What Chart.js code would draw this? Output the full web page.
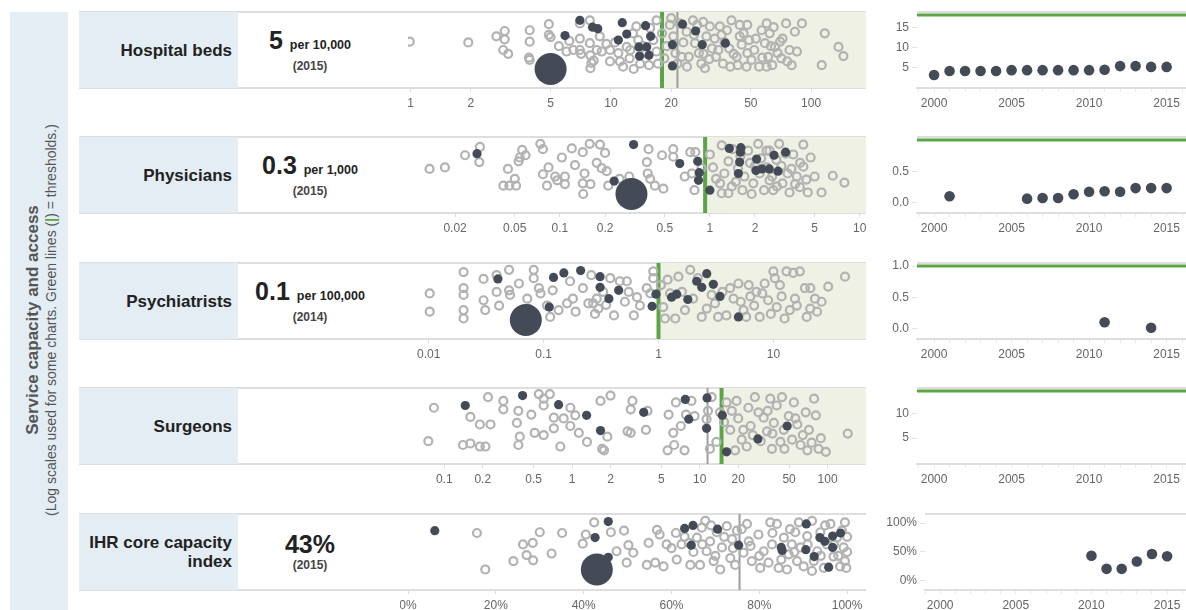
<!DOCTYPE html>
<html>
<head>
<meta charset="utf-8">
<title>Service capacity and access</title>
<script src="https://cdn.jsdelivr.net/npm/chart.js@4.4.1/dist/chart.umd.min.js"></script>
<style>
  body { margin: 0; background: #fff; font-family: Arial, "Liberation Sans", sans-serif; }
  #page { position: relative; width: 1186px; height: 610px; overflow: hidden; }
  .band { position: absolute; left: 10px; top: 12px; width: 58px; height: 598px; background: #e4edf3; }
  .vt { position: absolute; width: 600px; text-align: center; transform: rotate(-90deg); color: #555; white-space: nowrap; }
  .label { position: absolute; left: 79px; width: 159px; height: 76px; background: #e4edf3; display: flex; align-items: center; justify-content: flex-end; text-align: right; font-weight: bold; font-size: 17px; color: #222; padding-right: 6px; box-sizing: border-box; line-height: 19px; }
  .value { position: absolute; left: 238px; width: 144px; height: 76px; display: flex; flex-direction: column; justify-content: center; align-items: center; color: #222; }
  .big { font-size: 25px; font-weight: bold; line-height: 26px; }
  .unit { font-size: 12.5px; font-weight: bold; }
  .yr { font-size: 12px; font-weight: bold; color: #444; line-height: 16px; }
  .hline { position: absolute; height: 2px; background: #dedede; }
  canvas { position: absolute; }
</style>
</head>
<body>
<div id="page">
  <div class="band"></div>
  <div class="vt" style="left:-267px; top:310px; font-size:17px; font-weight:bold; line-height:20px;">Service capacity and access</div>
  <div class="vt" style="left:-249px; top:312px; font-size:14px; line-height:16px;">(Log scales used for some charts. Green lines (<span style="color:#5ba547;font-weight:bold">|</span>) = thresholds.)</div>
</div>

<script>
// ==========================================
// DATA
// ==========================================

const rowNames = ['Hospital beds', 'Physicians', 'Psychiatrists', 'Surgeons', 'IHR core capacity<br>index'];
const headline = ['5', '0.3', '0.1', '', '43%'];
const headUnit = ['per 10,000', 'per 1,000', 'per 100,000', '', ''];
const headYear = ['(2015)', '(2015)', '(2014)', '', '(2015)'];

// country value (big dot) and its jitter position
const countryValue = [5, 0.3, 0.07, null, 43];
const countryJitter = [0.25, 0.25, 0.25, null, 0.27];

// strip plot axes
const stripMin = [0.97, 0.0097, 0.0066, 0.052, 0];
const stripMax = [188, 11, 64, 200, 104.3];
const stripTicks = [
    [1, 2, 5, 10, 20, 50, 100],
    [0.02, 0.05, 0.1, 0.2, 0.5, 1, 2, 5, 10],
    [0.01, 0.1, 1, 10],
    [0.1, 0.2, 0.5, 1, 2, 5, 10, 20, 50, 100],
    [0, 20, 40, 60, 80, 100]
];
const stripThreshold = [18, 0.93, 1, 14.8, null];
const stripMedian = [21.5, null, null, 11.5, 75.5];

// other countries: [value, jitter 0..1]
const bedsOpen = [[0.99,.61],[1.94,.6],[2.68,.68],[2.95,.75],[2.95,.64],[2.9,.5],[3.07,.45],[3.93,.76],[3.93,.61],[3.93,.37],[3.9,.4],[4.9,.84],[4.9,.7],[5.0,.67],[6.0,.48],[6.5,.5],[7.0,.85],[7.0,.65],[7.0,.5],[7.1,.45],[7.85,.89],[7.85,.59],[7.9,.43],[8.0,.33],[7.9,.26],[8.2,.36],[8.8,.68],[9.0,.48],[9.9,.5],[9.9,.35],[10.9,.46],[11.1,.35],[12.0,.54],[12.4,.39],[12.9,.72],[13.4,.81],[13.7,.63],[14.0,.32],[15.0,.46],[15.7,.79],[16.3,.63],[16.9,.89],[16.9,.48],[17.2,.32],[18.5,.39],[19.7,.83],[20,.92],[20.5,.68],[21,.46],[21.5,.32],[22.6,.41],[23.9,.74],[24.5,.41],[25.7,.89],[26.3,.59],[27,.83],[27.5,.46],[28.3,.32],[28.9,.87],[29.5,.26],[30,.68],[31.2,.81],[32,.52],[33.5,.41],[34.4,.5],[35,.81],[35.7,.7],[36.3,.32],[39,.52],[40,.89],[39.5,.28],[42.5,.41],[44,.83],[44,.68],[45,.57],[47.6,.28],[48,.46],[48,.83],[49,.63],[50.4,.37],[55,.28],[56.6,.76],[58.8,.59],[60,.85],[61,.41],[62.1,.72],[64,.3],[66,.54],[68,.46],[70,.61],[71,.39],[75,.85],[76,.35],[83,.74],[85,.48],[90,.85],[113,.3],[117,.72],[137,.54],[145,.42],[14.5,.55],[18,.72],[19,.55],[22,.85],[23,.6],[24,.28],[26,.7],[29,.45],[31,.38],[33,.65],[37,.6],[38,.76],[41,.45],[43,.3],[46,.72],[52,.5],[53,.65],[57,.4],[60,.28],[63,.55],[65,.8],[72,.65],[78,.5],[80,.3],[5.5,.55],[6.2,.62],[8.5,.5],[9.5,.58],[10.5,.6],[11.5,.28],[12.5,.5],[13,.25],[15.5,.3]];
const bedsFill = [[5.9,.69],[7.0,.89],[8.1,.8],[8.6,.78],[10.9,.63],[11.4,.86],[12,.71],[13.8,.54],[13.9,.42],[14.9,.82],[15.1,.54],[15.5,.43],[15.8,.68],[20.3,.57],[20.3,.29],[22.8,.84],[26.5,.75],[28.6,.57],[37.3,.59]];

const physOpen = [[0.0135,.58],[0.0171,.6],[0.0233,.76],[0.0293,.87],[0.029,.67],[0.042,.36],[0.045,.58],[0.046,.36],[0.05,.45],[0.051,.36],[0.053,.68],[0.056,.83],[0.059,.76],[0.054,.73],[0.074,.91],[0.077,.84],[0.077,.51],[0.084,.6],[0.082,.36],[0.093,.48],[0.096,.43],[0.103,.73],[0.108,.48],[0.108,.38],[0.12,.85],[0.126,.63],[0.142,.8],[0.142,.39],[0.143,.25],[0.146,.52],[0.158,.91],[0.16,.38],[0.176,.66],[0.185,.9],[0.19,.59],[0.2,.79],[0.205,.55],[0.21,.36],[0.25,.45],[0.29,.48],[0.31,.39],[0.38,.67],[0.39,.84],[0.385,.52],[0.4,.45],[0.43,.36],[0.49,.32],[0.48,.76],[0.57,.84],[0.57,.74],[0.68,.48],[0.74,.8],[0.76,.52],[0.79,.3],[0.8,.8],[0.88,.59],[1.0,.77],[1.05,.6],[1.17,.39],[1.2,.89],[1.2,.26],[1.33,.26],[1.33,.68],[1.42,.84],[1.49,.41],[1.54,.59],[1.65,.3],[1.8,.82],[1.85,.66],[1.95,.39],[2.1,.91],[2.15,.52],[2.3,.3],[2.39,.82],[2.5,.43],[2.65,.3],[2.78,.7],[2.9,.91],[3.05,.39],[3.3,.52],[3.4,.27],[3.6,.77],[3.8,.48],[3.98,.34],[4.2,.9],[4.2,.61],[4.5,.27],[4.7,.73],[5.0,.48],[5.56,.27],[6.6,.49],[7.9,.4],[1.1,.45],[1.25,.52],[1.4,.35],[1.6,.75],[1.7,.48],[2.0,.62],[2.2,.72],[2.4,.6],[2.6,.48],[2.8,.35],[3.0,.62],[3.2,.78],[3.5,.58],[3.7,.38],[4.0,.66],[4.4,.44],[1.9,.25],[2.5,.82]];
const physFill = [[0.028,.78],[0.31,.9],[0.23,.42],[0.63,.65],[0.83,.68],[0.85,.53],[0.84,.43],[1.0,.3],[1.35,.85],[1.61,.86],[1.6,.8],[1.58,.67],[1.55,.52],[2.05,.71],[2.03,.56],[2.23,.58],[2.49,.58],[2.68,.76],[2.85,.55],[3.2,.8]];

const psychOpen = [[0.0102,.6],[0.0102,.36],[0.0201,.88],[0.0201,.67],[0.0201,.58],[0.0201,.38],[0.0201,.27],[0.03,.79],[0.03,.51],[0.031,.38],[0.039,.84],[0.039,.62],[0.041,.44],[0.05,.91],[0.05,.64],[0.051,.58],[0.061,.73],[0.072,.53],[0.074,.4],[0.082,.91],[0.082,.8],[0.091,.67],[0.094,.6],[0.107,.44],[0.114,.29],[0.135,.38],[0.16,.47],[0.17,.76],[0.18,.53],[0.22,.67],[0.26,.84],[0.27,.47],[0.28,.33],[0.29,.53],[0.33,.62],[0.38,.8],[0.41,.31],[0.46,.76],[0.51,.49],[0.53,.76],[0.61,.31],[0.69,.44],[0.79,.67],[0.85,.6],[0.9,.89],[0.9,.8],[1.1,.42],[1.14,.27],[1.26,.6],[1.4,.27],[1.49,.82],[1.7,.38],[1.89,.91],[2.0,.53],[2.38,.29],[2.63,.4],[2.9,.58],[3.3,.29],[3.9,.31],[4.2,.67],[4.5,.53],[4.96,.73],[5.5,.38],[6.1,.71],[6.3,.56],[7.1,.62],[7.6,.29],[8.4,.73],[9.0,.51],[10,.89],[10.3,.8],[10.7,.42],[11.4,.71],[13,.89],[13.9,.38],[14.9,.87],[15.4,.53],[17,.89],[18.8,.67],[19.5,.29],[20.9,.4],[23,.53],[26.3,.49],[30,.69],[42,.82],[0.3,.4],[0.35,.45],[0.55,.62],[0.65,.55],[1.05,.71],[1.2,.78],[1.6,.62],[2.2,.8],[3.1,.47],[3.6,.62],[5.2,.49],[5.8,.29],[6.8,.44],[8.0,.6],[9.5,.33],[11.8,.56],[12.5,.27],[16,.44],[21,.67],[24,.36],[0.19,.36],[0.245,.47],[0.12,.64]];
const psychFill = [[0.04,.79],[0.122,.81],[0.15,.87],[0.21,.9],[0.31,.82],[0.31,.68],[0.45,.64],[0.37,.53],[0.112,.42],[0.88,.43],[0.95,.59],[1.3,.55],[1.44,.59],[1.8,.52],[2.15,.76],[2.38,.68],[2.63,.86],[3.0,.72],[3.43,.56],[4.96,.29]];

const surgOpen = [[0.075,.3],[0.083,.74],[0.14,.25],[0.16,.27],[0.16,.62],[0.19,.52],[0.19,.23],[0.21,.23],[0.22,.88],[0.23,.52],[0.29,.83],[0.29,.72],[0.38,.25],[0.38,.7],[0.37,.54],[0.39,.36],[0.48,.65],[0.51,.41],[0.55,.92],[0.6,.86],[0.6,.77],[0.6,.38],[0.67,.92],[0.72,.61],[0.72,.47],[0.81,.23],[0.86,.6],[0.97,.74],[0.97,.5],[1.06,.64],[1.13,.41],[1.31,.29],[1.67,.83],[1.72,.2],[1.78,.18],[1.89,.36],[2.0,.9],[2.72,.43],[2.88,.41],[2.88,.72],[2.97,.83],[3.79,.45],[3.9,.7],[5.6,.18],[5.7,.65],[6.2,.41],[6.3,.25],[6.5,.81],[7.1,.5],[7.6,.18],[7.8,.65],[8.6,.83],[9.1,.63],[11.3,.59],[11.6,.7],[12,.2],[12.4,.88],[13.5,.29],[14.4,.68],[16.2,.81],[17.3,.45],[17.8,.7],[18.9,.18],[19.4,.83],[21.3,.32],[21.9,.45],[23.3,.23],[24,.74],[27,.88],[28.8,.68],[31.6,.61],[33.6,.43],[35.6,.86],[36.7,.2],[38,.54],[40,.77],[42.8,.29],[44,.88],[45.4,.45],[49.7,.63],[52.8,.32],[54.5,.81],[58,.52],[61.5,.25],[67.5,.68],[69.5,.18],[71.5,.45],[78.5,.86],[81,.64],[88.6,.34],[97,.16],[144,.4],[25,.5],[30,.3],[34,.7],[37,.4],[46,.2],[56,.6],[64,.38],[75,.28],[85,.2],[20,.6],[15.5,.55],[26,.38]];
const surgFill = [[0.146,.77],[0.41,.9],[0.785,.78],[1.3,.64],[1.67,.44],[3.64,.68],[7.7,.85],[8.2,.59],[11.4,.87],[11.3,.47],[15,.64],[16.2,.16],[28.5,.33],[48.3,.5]];

const ihrOpen = [[15.7,.75],[17.6,.27],[24,.38],[26.2,.6],[27,.46],[28.4,.62],[28.5,.39],[30,.76],[32.7,.48],[35.1,.75],[39.8,.61],[40.5,.73],[42.4,.89],[46.2,.76],[47.5,.51],[49.2,.78],[50.2,.59],[49.8,.36],[51.3,.49],[54.4,.33],[54.8,.62],[56.3,.36],[56.7,.79],[57.3,.73],[58.2,.31],[58.9,.6],[61.2,.4],[62.3,.6],[64.3,.33],[65.8,.69],[66.5,.33],[66.9,.82],[67.7,.91],[68,.51],[68.8,.64],[69.6,.38],[70.3,.76],[71.1,.27],[71.5,.56],[72.6,.84],[73.4,.42],[73.8,.67],[74.5,.33],[74.9,.78],[76.4,.49],[77.2,.87],[77.6,.64],[78.3,.38],[79.8,.73],[80.2,.29],[81,.51],[82.1,.36],[82.5,.89],[82.9,.6],[84,.87],[84.4,.29],[85.6,.69],[86.3,.27],[86.7,.47],[87.4,.6],[88.2,.76],[88.6,.38],[89,.89],[89.4,.56],[90.1,.31],[90.9,.71],[92,.91],[92.4,.38],[93.2,.51],[93.9,.76],[94.7,.29],[95.4,.6],[96.2,.87],[96.9,.44],[97.7,.69],[98.4,.31],[98.8,.78],[99.2,.56],[99.5,.89],[99.5,.38],[99.8,.29],[63,.7],[65,.5],[67,.6],[69,.85],[70,.45],[72,.7],[74,.55],[76,.8],[78,.58],[80,.45],[83,.75],[85,.4],[87,.8],[88,.5],[91,.6],[92,.25],[94,.45],[95,.85],[97,.6],[98,.45],[100,.7],[100,.5],[60,.55],[61,.75],[64,.62]];
const ihrFill = [[6.1,.78],[42.6,.69],[45.6,.9],[45.6,.43],[63,.81],[64.9,.85],[64.5,.59],[70.5,.8],[75.3,.59],[85,.56],[85.2,.52],[90.7,.87],[90.6,.53],[92.5,.44],[93.8,.69],[94.9,.64],[96.7,.71],[98.5,.75],[96.7,.56],[95.8,.3]];

// trends over time
const bedsYears = [2000, 2001, 2002, 2003, 2004, 2005, 2006, 2007, 2008, 2009, 2010, 2011, 2012, 2013, 2014, 2015];
const bedsTrend = [3.2, 4.2, 4.2, 4.2, 4.2, 4.4, 4.4, 4.4, 4.4, 4.4, 4.4, 4.5, 5.4, 5.4, 5.2, 5.2];
const physYears = [2001, 2006, 2007, 2008, 2009, 2010, 2011, 2012, 2013, 2014, 2015];
const physTrend = [0.1, 0.06, 0.07, 0.07, 0.13, 0.17, 0.18, 0.17, 0.23, 0.23, 0.23];
const psychYears = [2011, 2014];
const psychTrend = [0.1, 0.01];
const surgYears = [];
const surgTrend = [];
const ihrYears = [2010, 2011, 2012, 2013, 2014, 2015];
const ihrTrend = [43, 20, 20, 33, 46, 42];

const trendMin = [0, -0.17, -0.17, -0.4, -17];
const trendMax = [18.75, 1.05, 1.05, 15.4, 116];
const trendTicks = [[5, 10, 15], [0, 0.5], [0, 0.5, 1], [5, 10], [0, 50, 100]];
const trendThreshold = [18, 1, 1, 14.8, null];
const yearTicks = [1999, 2000, 2001, 2002, 2003, 2004, 2005, 2006, 2007, 2008, 2009, 2010, 2011, 2012, 2013, 2014, 2015, 2016];

// ==========================================
// LAYOUT
// ==========================================

const DARK = '#444b57';
const GREEN = '#5ba547';
const rowTops = [12, 137, 263, 388, 514];
const opens = [bedsOpen, physOpen, psychOpen, surgOpen, ihrOpen];
const fills = [bedsFill, physFill, psychFill, surgFill, ihrFill];
const trendYears = [bedsYears, physYears, psychYears, surgYears, ihrYears];
const trendVals = [bedsTrend, physTrend, psychTrend, surgTrend, ihrTrend];

Chart.defaults.font.family = 'Arial, "Liberation Sans", sans-serif';
Chart.defaults.font.size = 12;
Chart.defaults.color = '#666';

const page = document.getElementById('page');

function addDiv(cls, style, html) {
    const d = document.createElement('div');
    d.className = cls;
    d.setAttribute('style', style);
    if (html) d.innerHTML = html;
    page.appendChild(d);
    return d;
}

function addCanvas(left, top, w, h) {
    const cv = document.createElement('canvas');
    cv.width = w; cv.height = h;
    cv.style.left = left + 'px';
    cv.style.top = top + 'px';
    page.appendChild(cv);
    return cv;
}

const toPts = arr => arr.map(p => ({ x: p[0], y: p[1] }));

// shading, median and threshold lines of the strip plots
const stripDecor = {
    id: 'stripDecor',
    beforeDatasetsDraw(chart, args, opts) {
        const { ctx, chartArea: a, scales: { x } } = chart;
        ctx.save();
        if (opts.threshold != null) {
            const gx = x.getPixelForValue(opts.threshold);
            ctx.fillStyle = '#eef1e3';
            ctx.fillRect(gx, a.top, a.right - gx, a.bottom - a.top);
        }
        if (opts.median != null) {
            const mx = x.getPixelForValue(opts.median);
            ctx.strokeStyle = '#9d9d9d';
            ctx.lineWidth = 2;
            ctx.beginPath(); ctx.moveTo(mx, a.top); ctx.lineTo(mx, a.bottom); ctx.stroke();
        }
        if (opts.threshold != null) {
            const gx = x.getPixelForValue(opts.threshold);
            ctx.strokeStyle = GREEN;
            ctx.lineWidth = 4;
            ctx.beginPath(); ctx.moveTo(gx, a.top); ctx.lineTo(gx, a.bottom); ctx.stroke();
        }
        ctx.restore();
    }
};

// top border and threshold of the trend charts
const trendDecor = {
    id: 'trendDecor',
    beforeDatasetsDraw(chart, args, opts) {
        const { ctx, chartArea: a, scales: { y } } = chart;
        ctx.save();
        ctx.fillStyle = '#dedede';
        ctx.fillRect(a.left, a.top - 1, a.right - a.left, 2);
        if (opts.threshold != null) {
            const gy = y.getPixelForValue(opts.threshold);
            ctx.strokeStyle = GREEN;
            ctx.lineWidth = 3;
            ctx.beginPath(); ctx.moveTo(a.left, gy); ctx.lineTo(a.right, gy); ctx.stroke();
        }
        ctx.restore();
    }
};

function stripChart(i) {
    const cv = addCanvas(400, rowTops[i] - 4, 466, 106);
    const datasets = [];
    if (countryValue[i] != null) {
        datasets.push({ data: [{ x: countryValue[i], y: countryJitter[i] }], pointRadius: 16, backgroundColor: DARK, borderWidth: 0 });
    }
    datasets.push({ data: toPts(fills[i]), pointRadius: 4.6, backgroundColor: DARK, borderWidth: 0 });
    datasets.push({ data: toPts(opens[i]), pointRadius: 4, borderWidth: 2.2, borderColor: '#b2b2b2', backgroundColor: 'rgba(255,255,255,0)' });

    new Chart(cv, {
        type: 'scatter',
        data: { datasets },
        options: {
            responsive: false,
            animation: false,
            layout: { autoPadding: false, padding: { left: 8, top: 4, right: 0, bottom: 0 } },
            plugins: {
                legend: { display: false },
                tooltip: { enabled: false },
                stripDecor: { threshold: stripThreshold[i], median: stripMedian[i] }
            },
            scales: {
                x: {
                    type: i === 4 ? 'linear' : 'logarithmic',
                    min: stripMin[i],
                    max: stripMax[i],
                    border: { display: false },
                    grid: { drawOnChartArea: false, color: '#dcdcdc', tickLength: 4 },
                    ticks: {
                        autoSkip: false, maxRotation: 0, padding: 4,
                        callback: v => i === 4 ? v + '%' : String(v)
                    },
                    afterBuildTicks: s => { s.ticks = stripTicks[i].map(v => ({ value: v })); },
                    afterFit: s => { s.height = 26; s.paddingLeft = 0; s.paddingRight = 0; }
                },
                y: { display: false, min: 0, max: 1 }
            }
        },
        plugins: [stripDecor]
    });
}

function trendChart(i) {
    const cv = addCanvas(870, rowTops[i] - 4, 316, 106);
    const yw = i === 4 ? 55 : 47;
    new Chart(cv, {
        type: 'scatter',
        data: {
            datasets: [{
                data: trendYears[i].map((yr, k) => ({ x: yr, y: trendVals[i][k] })),
                pointRadius: 5.3, backgroundColor: DARK, borderWidth: 0
            }]
        },
        options: {
            responsive: false,
            animation: false,
            layout: { autoPadding: false, padding: { left: 0, top: 4, right: 0, bottom: 0 } },
            plugins: {
                legend: { display: false },
                tooltip: { enabled: false },
                trendDecor: { threshold: trendThreshold[i] }
            },
            scales: {
                x: {
                    type: 'linear',
                    min: i === 4 ? 1999.0 : 1998.9,
                    max: 2016.25,
                    border: { color: '#dedede', width: 2 },
                    grid: { drawOnChartArea: false, color: '#e8e8e8', tickLength: 4 },
                    ticks: {
                        autoSkip: false, maxRotation: 0, padding: 4,
                        callback: v => v % 5 === 0 ? String(v) : ''
                    },
                    afterBuildTicks: s => { s.ticks = yearTicks.map(v => ({ value: v })); },
                    afterFit: s => { s.height = 26; s.paddingLeft = 0; s.paddingRight = 0; }
                },
                y: {
                    min: trendMin[i],
                    max: trendMax[i],
                    border: { display: false },
                    grid: { drawOnChartArea: false, color: '#e3e3e3', tickLength: 5 },
                    ticks: {
                        padding: 3,
                        callback: v => {
                            if (i === 4) return v + '%';
                            if (i === 1 || i === 2) return v.toFixed(1);
                            return String(v);
                        }
                    },
                    afterBuildTicks: s => { s.ticks = trendTicks[i].map(v => ({ value: v })); },
                    afterFit: s => { s.width = yw; s.paddingTop = 0; s.paddingBottom = 0; }
                }
            }
        },
        plugins: [trendDecor]
    });
}

rowNames.forEach((name, i) => {
    const T = rowTops[i];
    addDiv('hline', `left:79px; top:${T - 1}px; width:787px;`);
    addDiv('hline', `left:79px; top:${T + 75}px; width:787px;`);
    addDiv('label', `top:${T}px;`, name);
    if (headline[i]) {
        const unit = headUnit[i] ? ` <span class="unit">${headUnit[i]}</span>` : '';
        addDiv('value', `top:${T}px;`,
            `<div class="big">${headline[i]}${unit}</div><div class="yr">${headYear[i]}</div>`);
    }
    stripChart(i);
    trendChart(i);
});
</script>
</body>
</html>
